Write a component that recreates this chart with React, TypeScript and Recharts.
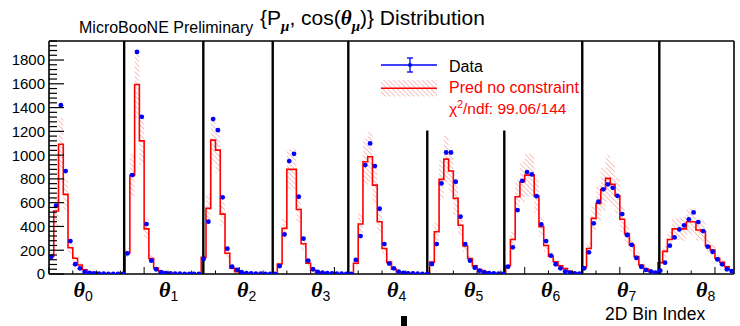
import {
  Area,
  ComposedChart,
  Line,
  ReferenceLine,
  Scatter,
  XAxis,
  YAxis,
} from "recharts";

/**
 * MicroBooNE-style unrolled 2D histogram: 144 bins (9 cos(theta) slices of
 * muon momentum). Red step = prediction with hatched uncertainty band,
 * blue points = data.
 */

// per theta-slice values
const dataVals = [
  // theta0
  145, 574, 1420, 866, 277, 82, 48, 18, 9, 5, 3, 2, 1, 1, 0, 0,
  // theta1
  174, 832, 1868, 1322, 420, 112, 40, 16, 8, 5, 3, 2, 1, 1, 0, 0,
  // theta2
  126, 440, 1303, 1210, 645, 213, 61, 34, 16, 8, 5, 3, 2, 1, 0,
  // theta3
  0, 67, 333, 950, 1011, 650, 297, 112, 40, 17, 12, 8, 5, 3, 2, 1,
  // theta4
  0, 118, 319, 916, 1098, 908, 549, 252, 88, 48, 20, 10, 6, 4, 2, 1, 0,
  // theta5
  84, 252, 762, 1022, 1022, 776, 482, 252, 112, 53, 28, 16, 8, 4, 2, 0,
  // theta6
  61, 224, 538, 784, 857, 838, 655, 417, 277, 154, 82, 48, 20, 12, 6, 3,
  // theta7
  48, 182, 426, 608, 712, 754, 725, 658, 504, 328, 245, 135, 61, 34, 22, 12,
  // theta8
  28, 95, 238, 308, 375, 409, 460, 518, 437, 361, 230, 187, 123, 81, 40, 25,
];

const predVals = [
  150, 530, 1092, 670, 221, 132, 76, 36, 16, 8, 5, 3, 2, 1, 1, 0,
  180, 830, 1594, 1120, 380, 130, 50, 22, 10, 6, 4, 2, 2, 1, 1, 0,
  140, 552, 1126, 1042, 504, 174, 48, 20, 10, 6, 4, 3, 2, 1, 1,
  2, 84, 384, 880, 880, 543, 255, 90, 32, 15, 9, 5, 3, 2, 1, 1,
  3, 90, 420, 944, 986, 748, 440, 215, 100, 40, 18, 10, 6, 4, 2, 1, 1,
  100, 356, 796, 966, 866, 636, 410, 236, 130, 68, 38, 18, 8, 4, 2, 1,
  70, 290, 650, 776, 832, 832, 655, 398, 240, 150, 103, 70, 45, 22, 10, 4,
  60, 215, 468, 594, 712, 804, 754, 658, 460, 340, 244, 146, 76, 42, 22, 12,
  95, 190, 290, 380, 380, 380, 440, 440, 370, 360, 235, 202, 132, 98, 61, 34,
];

const predErr = [
  35, 125, 220, 135, 50, 30, 18, 10, 5, 3, 2, 1, 1, 1, 0, 0,
  40, 180, 280, 200, 80, 30, 14, 7, 4, 3, 2, 1, 1, 1, 0, 0,
  35, 120, 200, 190, 100, 40, 12, 6, 4, 3, 2, 1, 1, 1, 1,
  1, 20, 80, 170, 170, 110, 55, 20, 8, 4, 3, 2, 1, 1, 0, 0,
  1, 25, 90, 200, 210, 160, 95, 45, 22, 9, 5, 3, 2, 1, 1, 0, 0,
  25, 80, 170, 195, 180, 135, 85, 50, 28, 15, 8, 4, 2, 1, 1, 0,
  18, 65, 140, 170, 180, 180, 140, 85, 52, 33, 22, 15, 10, 5, 3, 1,
  15, 50, 110, 150, 180, 200, 185, 150, 105, 78, 55, 34, 18, 10, 6, 3,
  25, 45, 65, 90, 95, 100, 110, 110, 90, 85, 55, 45, 30, 22, 14, 8,
];

const thetaLabels = ["0", "1", "2", "3", "4", "5", "6", "7", "8"];

// slice separators (in bin units) and how high each is drawn
const sepX = [15.8, 32.44, 47.03, 62.92, 79.52, 95.71, 112.1, 128.3];
const sepTop = [1960, 1960, 1960, 1960, 1207, 1207, 1960, 1960];

const NBINS = 144;
const YMAX = 1960;
const xTicks = Array.from({ length: 29 }, (_, i) => i * 5);
const yTicks = Array.from({ length: 50 }, (_, i) => i * 40);

// layout
const W = 740;
const H = 326;
const PLOT_L = 49;
const PLOT_B = 274;
const thetaX = [73.5, 159, 237, 311, 387, 464, 541, 617, 696];

const FONT = "'Liberation Sans', Arial, Helvetica, sans-serif";
const SERIF = "'Liberation Serif', 'Times New Roman', serif";

// step rows at bin edges (last edge repeats the last bin)
const edgeRows = Array.from({ length: NBINS + 1 }, (_, i) => {
  const k = Math.min(i, NBINS - 1);
  return {
    x: i,
    pred: predVals[k],
    band: [Math.max(0, predVals[k] - predErr[k]), predVals[k] + predErr[k]],
  };
});

const pointRows = dataVals.map((v, i) => ({ x: i + 0.5, data: v }));

function XTick(props: any) {
  const { x, payload } = props;
  const len = payload.value % 20 === 0 ? 7 : 3.5;
  return (
    <line x1={x} x2={x} y1={PLOT_B} y2={PLOT_B - len} stroke="#000" strokeWidth={1} />
  );
}

function YTick(props: any) {
  const { y, payload } = props;
  const v = payload.value as number;
  const major = v % 200 === 0;
  return (
    <g>
      <line
        x1={PLOT_L}
        x2={PLOT_L + (major ? 15 : 8)}
        y1={y}
        y2={y}
        stroke="#000"
        strokeWidth={1.2}
      />
      {major && v <= 1800 && (
        <text
          x={45}
          y={y}
          dy="0.36em"
          textAnchor="end"
          fontSize={15}
          fontFamily={FONT}
          fill="#000"
        >
          {v}
        </text>
      )}
    </g>
  );
}

function Dot(props: any) {
  const { cx, cy } = props;
  if (cx == null || cy == null) return <g />;
  return <circle cx={cx} cy={cy} r={2.4} fill="#0000ff" />;
}

export default function App() {
  return (
    <div
      style={{
        position: "absolute",
        left: 0,
        top: 0,
        width: W,
        height: H,
        background: "#fff",
      }}
    >
      <ComposedChart
        width={W}
        height={H}
        data={edgeRows}
        margin={{ top: 41, right: 6, bottom: 0, left: 0 }}
      >
        <defs>
          <pattern
            id="hatch"
            width="3.4"
            height="3.4"
            patternUnits="userSpaceOnUse"
            patternTransform="rotate(-45)"
          >
            <line x1="0" y1="0" x2="0" y2="3.4" stroke="#e8312f" strokeWidth="0.8" strokeOpacity="0.75" />
          </pattern>
        </defs>
        <XAxis
          dataKey="x"
          type="number"
          domain={[0, NBINS]}
          allowDataOverflow
          ticks={xTicks}
          interval={0}
          tick={<XTick />}
          tickLine={false}
          axisLine={{ stroke: "#000", strokeWidth: 1.6 }}
          height={52}
        />
        <YAxis
          type="number"
          domain={[0, YMAX]}
          allowDataOverflow
          ticks={yTicks}
          interval={0}
          tick={<YTick />}
          tickLine={false}
          axisLine={{ stroke: "#000", strokeWidth: 1.6 }}
          width={49}
        />
        <Area
          dataKey="band"
          type="stepAfter"
          stroke="none"
          fill="url(#hatch)"
          fillOpacity={1}
          isAnimationActive={false}
        />
        <Line
          dataKey="pred"
          type="stepAfter"
          stroke="#ff0000"
          strokeWidth={1.6}
          dot={false}
          activeDot={false}
          isAnimationActive={false}
        />
        <Scatter
          data={pointRows}
          dataKey="data"
          shape={<Dot />}
          isAnimationActive={false}
        />
        <ReferenceLine y={YMAX} stroke="#000" strokeWidth={1.6} />
        <ReferenceLine x={NBINS} stroke="#000" strokeWidth={1.6} />
        {sepX.map((sx, i) => (
          <ReferenceLine
            key={sx}
            segment={[
              { x: sx, y: 0 },
              { x: sx, y: sepTop[i] },
            ]}
            stroke="#000"
            strokeWidth={2.4}
          />
        ))}
      </ComposedChart>

      <svg
        width={W}
        height={H}
        style={{ position: "absolute", left: 0, top: 0, pointerEvents: "none" }}
      >
        <defs>
          <pattern
            id="hatchLeg"
            width="3.4"
            height="3.4"
            patternUnits="userSpaceOnUse"
            patternTransform="rotate(-45)"
          >
            <line x1="0" y1="0" x2="0" y2="3.4" stroke="#e8312f" strokeWidth="0.8" strokeOpacity="0.75" />
          </pattern>
        </defs>

        <text x={79} y={32.5} fontSize={16} fontFamily={FONT} fill="#000">
          MicroBooNE Preliminary
        </text>
        <text x={260} y={25} fontSize={21} fontFamily={FONT} fill="#000">
          {"{P"}
          <tspan fontSize={15} dy={6} fontStyle="italic" fontWeight="bold" fontFamily={SERIF}>
            μ
          </tspan>
          <tspan dy={-6}>, cos(</tspan>
          <tspan fontStyle="italic" fontFamily={SERIF} fontWeight="bold">
            θ
          </tspan>
          <tspan fontSize={15} dy={6} fontStyle="italic" fontWeight="bold" fontFamily={SERIF}>
            μ
          </tspan>
          <tspan dy={-6}>{")} Distribution"}</tspan>
        </text>

        {/* legend */}
        <line x1={381} x2={437} y1={65} y2={65} stroke="#0000ff" strokeWidth={1.3} />
        <line x1={410} x2={410} y1={58} y2={72} stroke="#0000ff" strokeWidth={1.3} />
        <line x1={407} x2={413} y1={58} y2={58} stroke="#0000ff" strokeWidth={1.3} />
        <line x1={407} x2={413} y1={72} y2={72} stroke="#0000ff" strokeWidth={1.3} />
        <circle cx={410} cy={65} r={2} fill="#0000ff" />
        <text x={449} y={71.5} fontSize={16} fontFamily={FONT} fill="#000">
          Data
        </text>
        <rect x={381} y={80} width={56} height={16.5} fill="url(#hatchLeg)" />
        <line x1={381} x2={437} y1={88.3} y2={88.3} stroke="#ff0000" strokeWidth={1.6} />
        <text x={449} y={92.8} fontSize={16} fontFamily={FONT} fill="#ff0000">
          Pred no constraint
        </text>
        <text x={449} y={113.5} fontSize={15.5} fontFamily={FONT} fill="#ff0000">
          χ
          <tspan fontSize={10.5} dy={-6}>
            2
          </tspan>
          <tspan dy={6}>/ndf: 99.06/144</tspan>
        </text>

        {/* theta slice labels */}
        {thetaLabels.map((t, i) => (
          <text key={t} x={thetaX[i]} y={297} fontSize={22} fontFamily={SERIF} fill="#000">
            <tspan fontStyle="italic" fontWeight="bold">
              θ
            </tspan>
            <tspan fontSize={14} dy={4} fontFamily={FONT}>
              {t}
            </tspan>
          </text>
        ))}
        <text x={605} y={319.5} fontSize={17.5} fontFamily={FONT} fill="#000">
          2D Bin Index
        </text>
        <rect x={401} y={316} width={6} height={10} fill="#000" />
      </svg>
    </div>
  );
}
